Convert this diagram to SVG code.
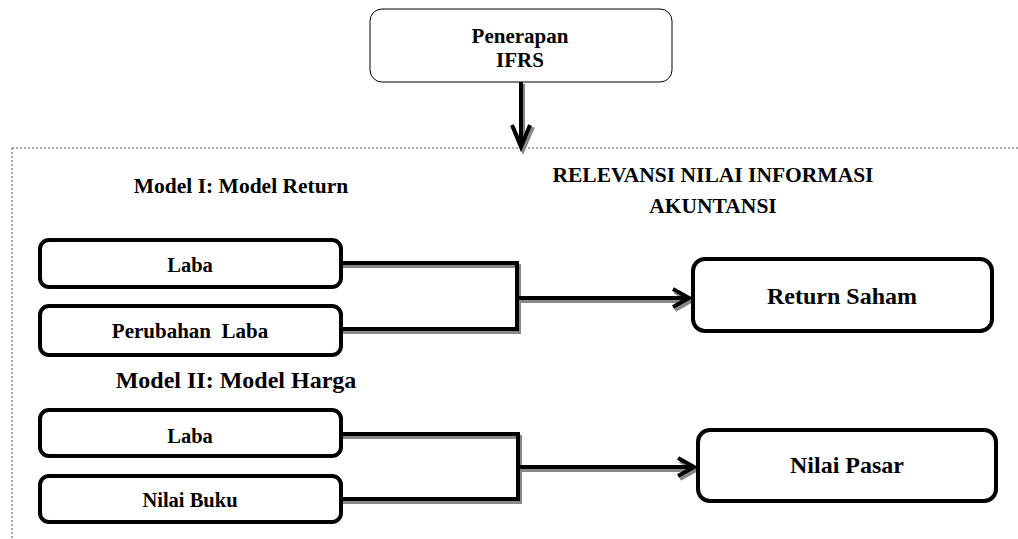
<svg xmlns="http://www.w3.org/2000/svg" width="1018" height="539" viewBox="0 0 1018 539">
<style>
text{font-family:"Liberation Serif","Times New Roman",serif;font-weight:bold;fill:#000;text-anchor:middle}
.box{fill:#fff;stroke:#000;stroke-width:4}
.line{fill:none;stroke:#000;stroke-width:4}
.shadow{fill:none;stroke:#888;stroke-width:4}
</style>
<rect x="0" y="0" width="1018" height="539" fill="#fff"/>
<path d="M12 148 H1018 M12 148 V539" fill="none" stroke="#555" stroke-width="1" stroke-dasharray="2,2"/>
<g id="penerapan">
<rect x="370" y="9" width="302" height="73" rx="12" fill="#fff" stroke="#000" stroke-width="1"/>
<text x="520" y="43" font-size="21" font-family="Liberation Serif, serif">Penerapan</text>
<text x="520" y="67" font-size="21" font-family="Liberation Serif, serif">IFRS</text>
</g>
<g id="connectors">
<path class="shadow" d="M523 84 V148 M513 127 L523 150 L533 127"/>
<path class="line" d="M521 82 V147 M512 125 L521 147 L530 125"/>
<path class="shadow" d="M342 266 H519 V332 H342 M519 301 H691 M675 292 L691 301 L675 310"/>
<path class="line" d="M342 263 H517 V329 H342 M517 298 H689 M673 289 L689 298 L673 307"/>
<path class="shadow" d="M342 437 H520 V502 H342 M520 470 H696 M680 461 L696 470 L680 479"/>
<path class="line" d="M342 434 H518 V499 H342 M518 467 H694 M678 458 L694 467 L678 476"/>
</g>
<text x="241" y="193" font-size="21.5">Model I: Model Return</text>
<text x="713" y="182" font-size="21.5">RELEVANSI NILAI INFORMASI</text>
<text x="713" y="213" font-size="21.5">AKUNTANSI</text>
<text x="236" y="388" font-size="24">Model II: Model Harga</text>
<g id="laba1">
<rect class="box" x="40" y="240" width="301" height="47" rx="9"/>
<text x="190" y="272" font-size="20.5">Laba</text>
</g>
<g id="perubahan-laba">
<rect class="box" x="40" y="306" width="301" height="49" rx="9"/>
<text x="190" y="338" font-size="21" xml:space="preserve">Perubahan  Laba</text>
</g>
<g id="return-saham">
<rect class="box" x="693" y="259" width="299" height="72" rx="12"/>
<text x="842" y="304" font-size="24">Return Saham</text>
</g>
<g id="laba2">
<rect class="box" x="40" y="410" width="301" height="46" rx="9"/>
<text x="190" y="443" font-size="20.5">Laba</text>
</g>
<g id="nilai-buku">
<rect class="box" x="40" y="476" width="301" height="46" rx="9"/>
<text x="190" y="507" font-size="20.5">Nilai Buku</text>
</g>
<g id="nilai-pasar">
<rect class="box" x="698" y="430" width="298" height="71" rx="12"/>
<text x="847" y="473" font-size="24">Nilai Pasar</text>
</g>
</svg>
